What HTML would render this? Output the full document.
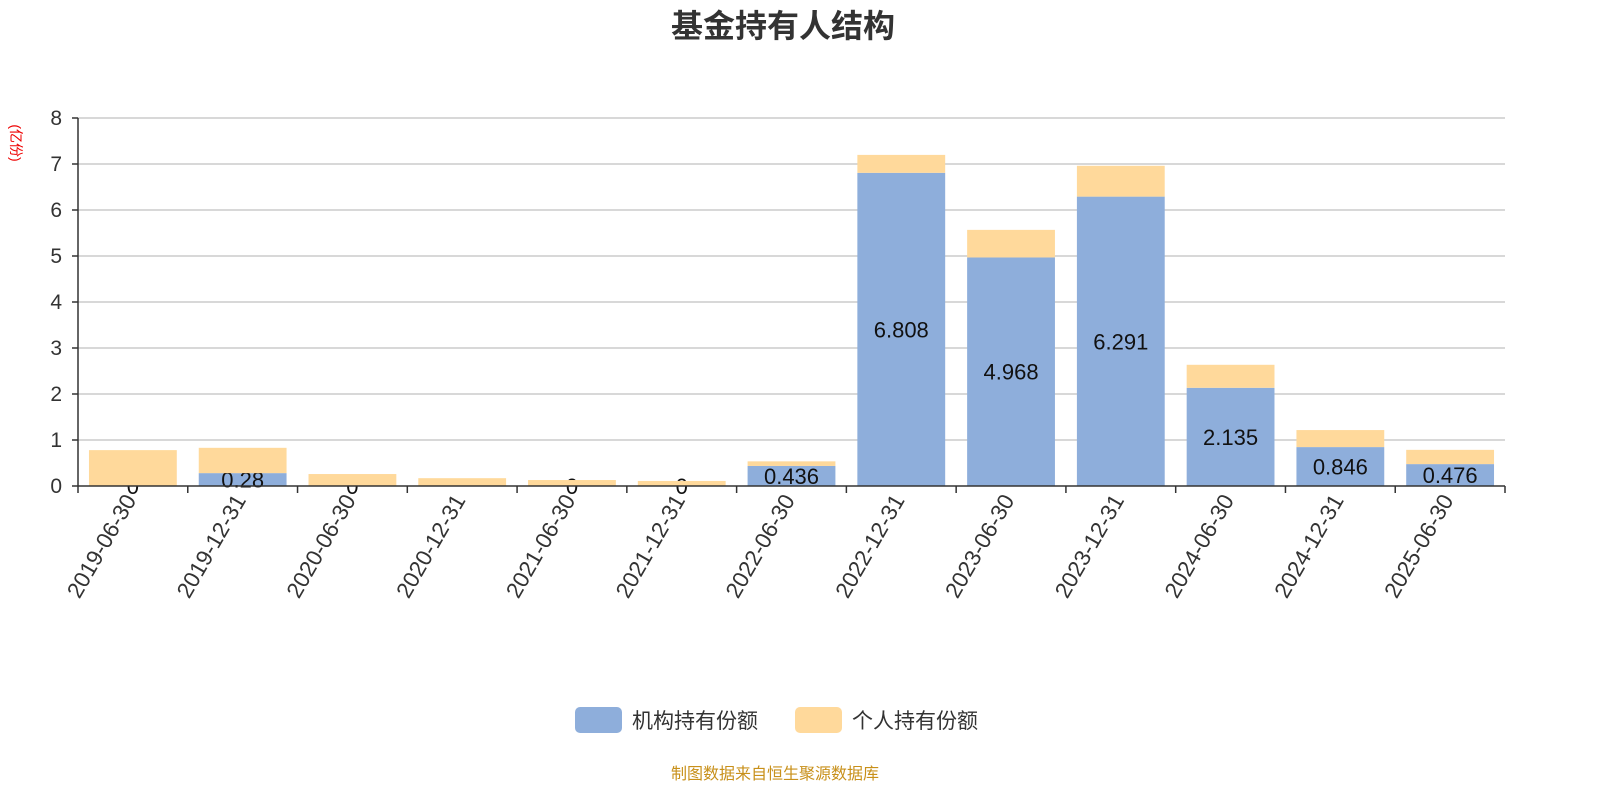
<!DOCTYPE html>
<html><head><meta charset="utf-8"><style>
body{margin:0;background:#fff;}
svg{font-family:"Liberation Sans","Noto Sans CJK SC",sans-serif;}
</style></head><body>
<svg id="c" width="1600" height="800">
<text x="783" y="37" text-anchor="middle" font-size="32" font-weight="bold" fill="#333">基金持有人结构</text>
<text transform="translate(11,143) rotate(90)" text-anchor="middle" font-size="14" fill="#e00">(亿份)</text>
<g id="grid"></g><g id="bars"></g><g id="axes"></g>
<g>
<rect x="575" y="707" width="47" height="26" rx="5" fill="#8eaedb"/>
<text x="632" y="728" font-size="21" fill="#333">机构持有份额</text>
<rect x="795" y="707" width="47" height="26" rx="5" fill="#ffd99b"/>
<text x="852" y="728" font-size="21" fill="#333">个人持有份额</text>
</g>
<text x="775" y="779" text-anchor="middle" font-size="16" fill="#c8901a">制图数据来自恒生聚源数据库</text>
</svg>
<script>
const categories=["2019-06-30","2019-12-31","2020-06-30","2020-12-31","2021-06-30","2021-12-31","2022-06-30","2022-12-31","2023-06-30","2023-12-31","2024-06-30","2024-12-31","2025-06-30"];
const institution=[0,0.28,0,null,0,0,0.436,6.808,4.968,6.291,2.135,0.846,0.476];
const individual=[0.78,0.55,0.26,0.17,0.13,0.11,0.10,0.39,0.60,0.67,0.50,0.37,0.31];
const yTicks=[0,1,2,3,4,5,6,7,8];
const NS="http://www.w3.org/2000/svg";
const x0=78,x1=1505,y0=486,y1=118,yMax=8;
const bw=(x1-x0)/categories.length;
const y=v=>y0-(v/yMax)*(y0-y1);
const xc=i=>x0+bw*(i+0.5);
function mk(p,tag,a){const e=document.createElementNS(NS,tag);for(const k in a)e.setAttribute(k,a[k]);p.appendChild(e);return e;}
const grid=document.getElementById('grid'),bars=document.getElementById('bars'),axes=document.getElementById('axes');
yTicks.forEach(t=>{
 const l=mk(grid,'line',{x1:x0,x2:x1,y1:y(t),y2:y(t),stroke:t===0?'none':'#ccc','stroke-width':1.5});
 
 
 const tx=mk(axes,'text',{x:x0-16,y:y(t)+7,'text-anchor':'end','font-size':21,fill:'#333'});
 tx.textContent=t;
 
 
 mk(axes,'line',{x1:x0-6,x2:x0,y1:y(t),y2:y(t),stroke:'#333','stroke-width':1.5});
});
mk(axes,'line',{x1:x0,x2:x0,y1:y1,y2:y0,stroke:'#333','stroke-width':1.5});
mk(axes,'line',{x1:x0,x2:x1,y1:y0,y2:y0,stroke:'#333','stroke-width':1.5});
const w=bw*0.8;
categories.forEach((c,i)=>{
 const a=institution[i]||0,b=individual[i];
 const r1=mk(bars,'rect',{x:xc(i)-w/2,y:y(a),width:w,height:y0-y(a),fill:'#8eaedb'});
 
 
 if(institution[i]!==null){
  const lb=mk(bars,'text',{x:xc(i),y:(y(a)+y0)/2+8,'text-anchor':'middle','font-size':22,fill:'#111'});
  lb.textContent=institution[i];
  
  
 }
 const r2=mk(bars,'rect',{x:xc(i)-w/2,y:y(a+b),width:w,height:y(a)-y(a+b),fill:'#ffd99b'});
 
 
 mk(axes,'line',{x1:x0+bw*(i+1),x2:x0+bw*(i+1),y1:y0,y2:y0+7,stroke:'#333','stroke-width':1.5});
 const xl=mk(axes,'text',{transform:`translate(${xc(i)+4},${y0+14}) rotate(-60)`,'text-anchor':'end','font-size':22.5,fill:'#333'});
 xl.textContent=c;
 
 
});
mk(axes,'line',{x1:x0,x2:x0,y1:y0,y2:y0+7,stroke:'#333','stroke-width':1.5});
</script>
</body></html>
